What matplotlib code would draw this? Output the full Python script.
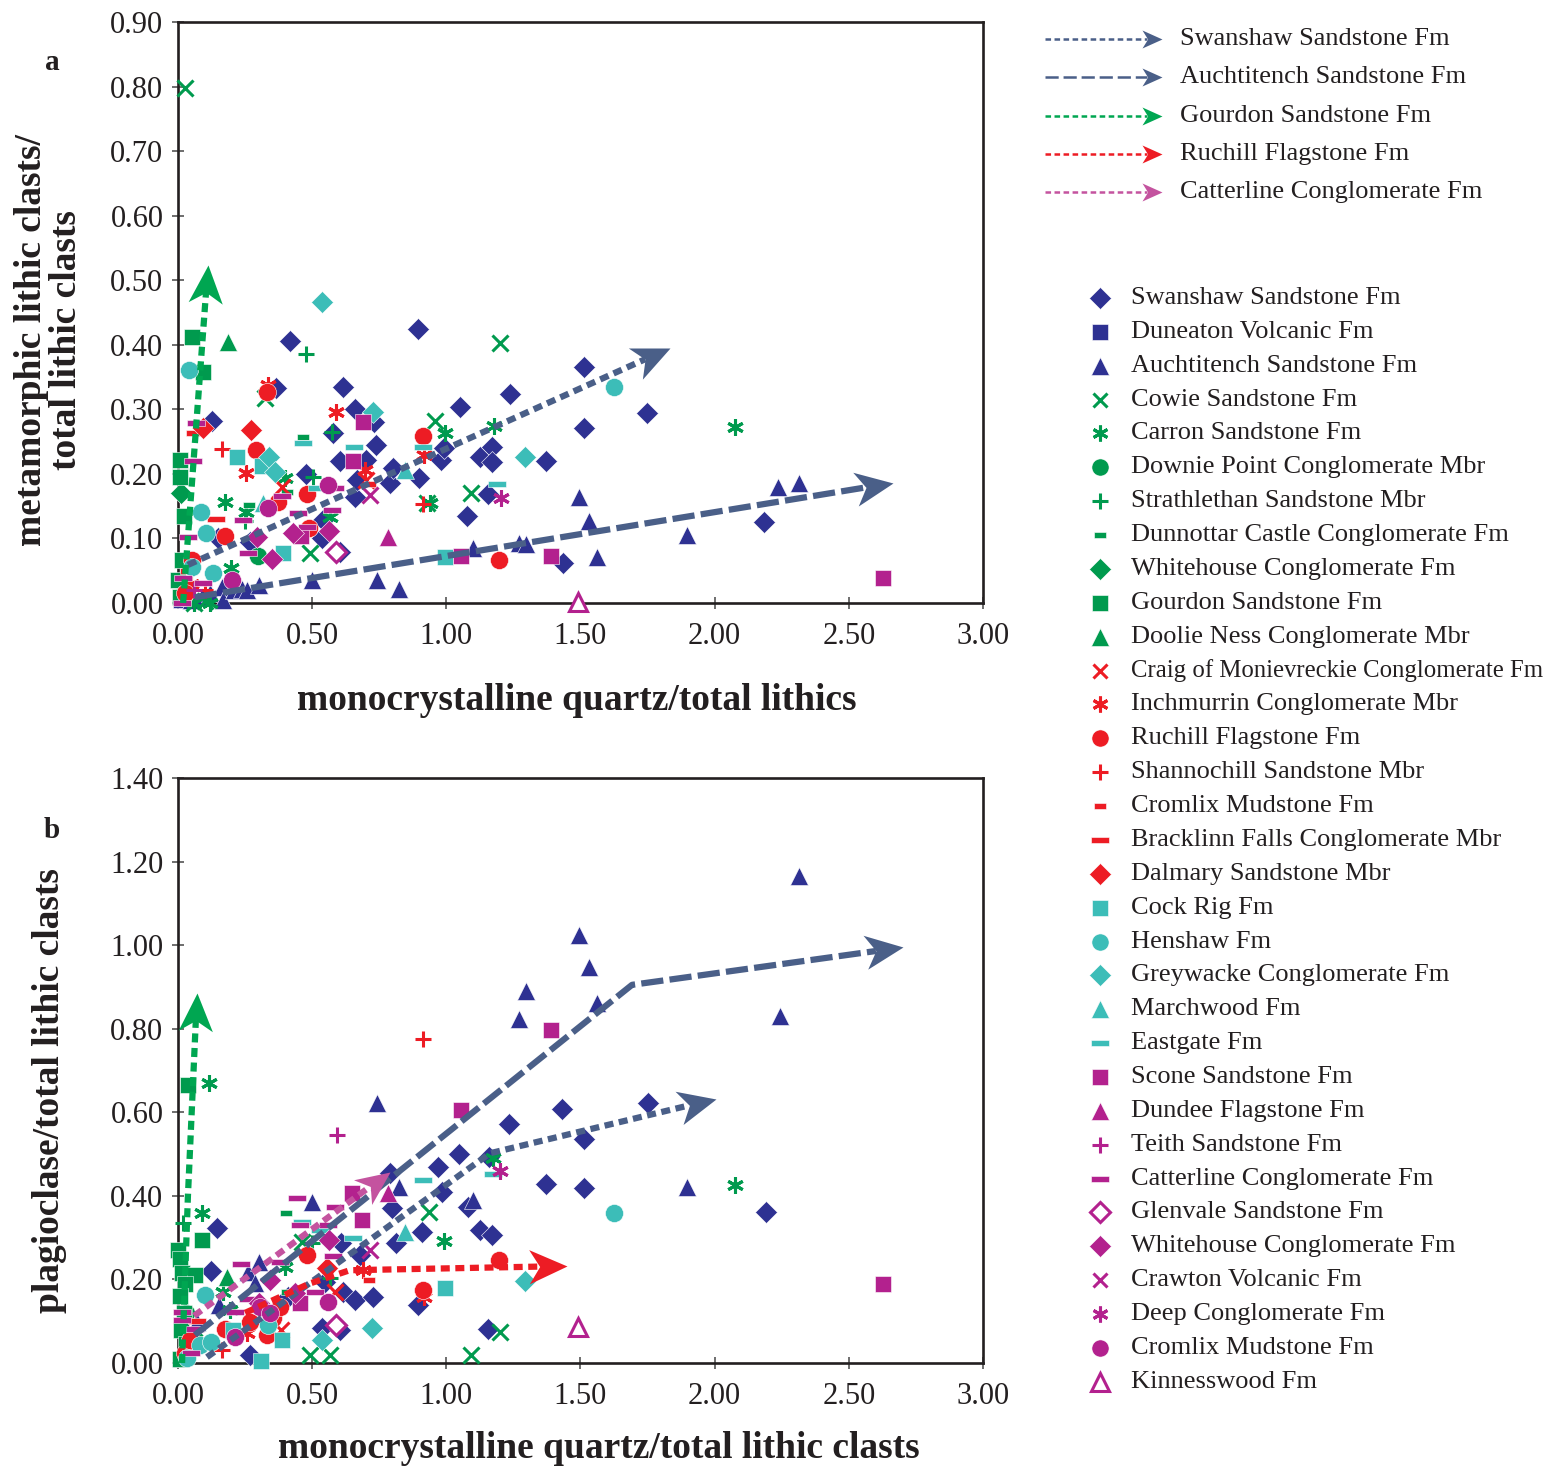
import numpy as np
import matplotlib
matplotlib.use("Agg")
import matplotlib.pyplot as plt
from matplotlib.markers import MarkerStyle
from matplotlib.path import Path
from matplotlib.transforms import Affine2D

plt.rcParams["font.family"] = ["Liberation Serif", "DejaVu Serif"]
plt.rcParams["lines.scale_dashes"] = False
plt.rcParams["text.color"] = "#231F20"

# ---------------------------------------------------------------- colours
NAVY = "#2E3192"
GREEN = "#009A4E"
RED = "#ED1C24"
TEAL = "#3CBDB8"
MAGENTA = "#B3218E"
SLATE = "#4A5F88"
ARROW_GREEN = "#00A651"
PINK = "#C4539F"

# ---------------------------------------------------------------- data
# (x, y) pairs: panel a = metamorphic/total lithic vs Qm/total lithics,
#               panel b = plagioclase/total lithic vs Qm/total lithic clasts
swanshaw_a = [(0.127, 0.282), (0.149, 0.10), (0.268, 0.095), (0.365, 0.333), (0.417, 0.406),
              (0.477, 0.20), (0.537, 0.10), (0.54, 0.128), (0.578, 0.263), (0.604, 0.22),
              (0.604, 0.079), (0.615, 0.335), (0.66, 0.30), (0.66, 0.164), (0.667, 0.19),
              (0.70, 0.221), (0.73, 0.28), (0.738, 0.245), (0.79, 0.186), (0.80, 0.209),
              (0.895, 0.424), (0.90, 0.193), (0.98, 0.221), (0.99, 0.24), (1.05, 0.304),
              (1.077, 0.135), (1.126, 0.226), (1.155, 0.169), (1.17, 0.242), (1.17, 0.218),
              (1.237, 0.324), (1.372, 0.22), (1.435, 0.062), (1.513, 0.366), (1.513, 0.271),
              (1.748, 0.294), (2.184, 0.125)]
swanshaw_b = [(0.123, 0.22), (0.145, 0.323), (0.268, 0.019), (0.41, 0.158), (0.537, 0.084),
              (0.548, 0.194), (0.604, 0.079), (0.608, 0.287), (0.615, 0.17), (0.66, 0.151),
              (0.678, 0.258), (0.727, 0.158), (0.79, 0.455), (0.798, 0.371), (0.812, 0.287),
              (0.895, 0.139), (0.909, 0.313), (0.969, 0.469), (0.984, 0.409), (1.047, 0.50),
              (1.081, 0.374), (1.126, 0.318), (1.155, 0.081), (1.159, 0.493), (1.17, 0.306),
              (1.234, 0.572), (1.372, 0.428), (1.431, 0.608), (1.513, 0.536), (1.513, 0.42),
              (1.752, 0.622), (2.19, 0.361)]
duneaton_a = [(0.01, 0.005)]
duneaton_b = [(0.01, 0.01)]
auchtitench_a = [(0.05, 0.005), (0.09, 0.01), (0.12, 0.015), (0.164, 0.025), (0.168, 0.005),
                 (0.21, 0.02), (0.24, 0.022), (0.257, 0.02), (0.302, 0.028), (0.50, 0.036),
                 (0.742, 0.036), (0.824, 0.021), (1.10, 0.085), (1.271, 0.093), (1.297, 0.091),
                 (1.495, 0.164), (1.532, 0.127), (1.562, 0.071), (1.897, 0.105), (2.236, 0.18),
                 (2.315, 0.186)]
auchtitench_b = [(0.02, 0.02), (0.071, 0.098), (0.153, 0.139), (0.26, 0.218), (0.287, 0.191),
                 (0.30, 0.242), (0.50, 0.385), (0.742, 0.622), (0.824, 0.421), (1.10, 0.39),
                 (1.271, 0.823), (1.297, 0.89), (1.495, 1.024), (1.532, 0.948), (1.562, 0.861),
                 (1.897, 0.421), (2.244, 0.83), (2.315, 1.165)]
cowie_a = [(0.026, 0.798), (0.324, 0.318), (0.492, 0.077), (0.928, 0.155), (0.958, 0.282),
           (1.092, 0.17), (1.20, 0.403), (0.10, 0.003), (0.06, 0.0)]
cowie_b = [(0.06, 0.05), (0.462, 0.29), (0.492, 0.019), (0.567, 0.019), (0.936, 0.361),
           (1.092, 0.019), (1.20, 0.074)]
carron_a = [(0.06, 0.0), (0.12, 0.0), (0.175, 0.156), (0.198, 0.054), (0.253, 0.141),
            (0.399, 0.194), (0.567, 0.133), (0.939, 0.155), (0.995, 0.263), (1.178, 0.274),
            (2.076, 0.273)]
carron_b = [(0.089, 0.359), (0.116, 0.67), (0.168, 0.17), (0.194, 0.127), (0.399, 0.23),
            (0.991, 0.292), (1.174, 0.49), (2.076, 0.426)]
downie_a = [(0.298, 0.073), (0.02, 0.01)]
downie_b = [(0.03, 0.12)]
strathlethan_a = [(0.25, 0.127), (0.477, 0.386), (0.503, 0.195), (0.574, 0.265), (0.03, 0.02)]
strathlethan_b = [(0.019, 0.335), (0.50, 0.287), (0.567, 0.203)]
dunnottar_a = [(0.265, 0.152), (0.406, 0.172), (0.466, 0.257)]
dunnottar_b = [(0.403, 0.359), (0.406, 0.17)]
whitehouse_g_a = [(0.01, 0.17), (0.03, 0.02)]
whitehouse_g_b = [(0.04, 0.03)]
gourdon_a = [(0.0, 0.036), (0.007, 0.01), (0.007, 0.195), (0.007, 0.221), (0.015, 0.066),
             (0.022, 0.134), (0.052, 0.412), (0.093, 0.358)]
gourdon_b = [(0.037, 0.665), (0.089, 0.294), (0.0, 0.27), (0.007, 0.25), (0.015, 0.215),
             (0.063, 0.21), (0.026, 0.19), (0.007, 0.16), (0.022, 0.12), (0.011, 0.08),
             (0.03, 0.045), (0.007, 0.01)]
doolie_a = [(0.186, 0.404)]
doolie_b = [(0.183, 0.206)]
craig_a = [(0.388, 0.18), (0.70, 0.19)]
craig_b = [(0.384, 0.08), (0.585, 0.17)]
inchmurrin_a = [(0.253, 0.201), (0.335, 0.337), (0.589, 0.296), (0.697, 0.206), (0.917, 0.229),
                (0.05, 0.03)]
inchmurrin_b = [(0.257, 0.072), (0.69, 0.222), (0.917, 0.158)]
ruchill_a = [(0.026, 0.015), (0.052, 0.066), (0.175, 0.104), (0.291, 0.237), (0.332, 0.327),
             (0.373, 0.156), (0.481, 0.169), (0.488, 0.116), (0.913, 0.259), (1.196, 0.066)]
ruchill_b = [(0.026, 0.024), (0.045, 0.055), (0.175, 0.081), (0.268, 0.098), (0.332, 0.067),
             (0.354, 0.108), (0.38, 0.134), (0.481, 0.258), (0.913, 0.175), (1.196, 0.246)]
shannochill_a = [(0.164, 0.239), (0.913, 0.153), (0.1, 0.02)]
shannochill_b = [(0.164, 0.031), (0.913, 0.775)]
cromlix_r_a = [(0.716, 0.184), (0.03, 0.05)]
cromlix_r_b = [(0.712, 0.199)]
bracklinn_a = [(0.063, 0.263), (0.142, 0.13)]
bracklinn_b = [(0.07, 0.10)]
dalmary_a = [(0.093, 0.271), (0.272, 0.268)]
dalmary_b = [(0.555, 0.227)]
cockrig_a = [(0.22, 0.226), (0.313, 0.212), (0.391, 0.077), (0.995, 0.071)]
cockrig_b = [(0.205, 0.079), (0.309, 0.005), (0.388, 0.055), (0.995, 0.179)]
henshaw_a = [(0.041, 0.361), (0.052, 0.056), (0.086, 0.141), (0.104, 0.108), (0.13, 0.046),
             (1.625, 0.335)]
henshaw_b = [(0.034, 0.012), (0.082, 0.043), (0.101, 0.163), (0.123, 0.05), (0.335, 0.091),
             (1.625, 0.359)]
greywacke_a = [(0.339, 0.226), (0.362, 0.203), (0.537, 0.466), (0.727, 0.296), (1.293, 0.226)]
greywacke_b = [(0.537, 0.055), (0.723, 0.084), (1.293, 0.196)]
marchwood_a = [(0.317, 0.155), (0.846, 0.206)]
marchwood_b = [(0.846, 0.313)]
eastgate_a = [(0.466, 0.248), (0.518, 0.178), (0.656, 0.241), (0.913, 0.241), (1.189, 0.184)]
eastgate_b = [(0.462, 0.337), (0.529, 0.318), (0.652, 0.299), (0.913, 0.438), (1.174, 0.452)]
scone_a = [(0.458, 0.104), (0.652, 0.22), (0.69, 0.28), (1.055, 0.073), (1.39, 0.073),
           (2.628, 0.039)]
scone_b = [(0.455, 0.144), (0.649, 0.407), (0.686, 0.342), (1.055, 0.605), (1.39, 0.797),
           (2.628, 0.189)]
dundee_a = [(0.783, 0.102)]
dundee_b = [(0.783, 0.407)]
teith_a = [(0.06, 0.02)]
teith_b = [(0.593, 0.546)]
catterline_a = [(0.015, 0.0), (0.019, 0.039), (0.037, 0.102), (0.056, 0.22), (0.067, 0.279),
                (0.093, 0.031), (0.242, 0.128), (0.261, 0.077), (0.388, 0.166), (0.447, 0.14),
                (0.481, 0.118), (0.574, 0.144), (0.585, 0.178)]
catterline_b = [(0.015, 0.122), (0.015, 0.103), (0.048, 0.024), (0.063, 0.081), (0.212, 0.122),
                (0.235, 0.237), (0.261, 0.153), (0.38, 0.242), (0.443, 0.395), (0.455, 0.33),
                (0.511, 0.17), (0.559, 0.33), (0.578, 0.256), (0.585, 0.374)]
glenvale_a = [(0.589, 0.079)]
glenvale_b = [(0.589, 0.091)]
whitehouse_m_a = [(0.294, 0.102), (0.35, 0.068), (0.429, 0.108), (0.563, 0.111)]
whitehouse_m_b = [(0.302, 0.144), (0.343, 0.199), (0.436, 0.168), (0.563, 0.294)]
crawton_a = [(0.716, 0.167)]
crawton_b = [(0.716, 0.27)]
deep_a = [(1.204, 0.163)]
deep_b = [(1.20, 0.46)]
cromlix_m_a = [(0.201, 0.036), (0.335, 0.147), (0.559, 0.183)]
cromlix_m_b = [(0.212, 0.063), (0.306, 0.134), (0.343, 0.12), (0.559, 0.146)]
kinnesswood_a = [(1.49, 0.002)]
kinnesswood_b = [(1.491, 0.086)]

# trend arrows (vertices, last one is the arrow tip)
trend_swanshaw_a = [(0.037, 0.059), (1.834, 0.395)]
trend_auchtitench_a = [(0.063, 0.009), (2.665, 0.186)]
trend_gourdon_a = [(0.019, 0.0), (0.112, 0.524)]
trend_auchtitench_b = [(0.063, 0.067), (1.692, 0.905), (2.702, 0.995)]
trend_swanshaw_b = [(0.108, 0.014), (1.163, 0.502), (2.005, 0.632)]
trend_catterline_b = [(0.06, 0.113), (0.79, 0.457)]
trend_ruchill_b = [(0.25, 0.12), (0.49, 0.19), (0.64, 0.222), (1.45, 0.232)]
trend_gourdon_b = [(0.015, 0.0), (0.037, 0.40), (0.071, 0.885)]

x_ticks = [0.0, 0.5, 1.0, 1.5, 2.0, 2.5, 3.0]
y_ticks_a = [0.0, 0.1, 0.2, 0.3, 0.4, 0.5, 0.6, 0.7, 0.8, 0.9]
y_ticks_b = [0.0, 0.2, 0.4, 0.6, 0.8, 1.0, 1.2, 1.4]

# ---------------------------------------------------------------- marker styles
DASH_LONG = [(-1, -0.3), (1, -0.3), (1, 0.3), (-1, 0.3), (-1, -0.3)]
DASH_SHORT = [(-1, -0.55), (1, -0.55), (1, 0.55), (-1, 0.55), (-1, -0.55)]
ASTER = (6, 2, 0)

# label, panel a, panel b, marker, colour, size (pt), kind
series = [
    ("Swanshaw Sandstone Fm", swanshaw_a, swanshaw_b, "D", NAVY, 11.5, "fill"),
    ("Duneaton Volcanic Fm", duneaton_a, duneaton_b, "s", NAVY, 12, "fill"),
    ("Auchtitench Sandstone Fm", auchtitench_a, auchtitench_b, "^", NAVY, 13.5, "fill"),
    ("Cowie Sandstone Fm", cowie_a, cowie_b, "x", GREEN, 11, "line"),
    ("Carron Sandstone Fm", carron_a, carron_b, ASTER, GREEN, 12, "line"),
    ("Downie Point Conglomerate Mbr", downie_a, downie_b, "o", GREEN, 13, "fill"),
    ("Strathlethan Sandstone Mbr", strathlethan_a, strathlethan_b, "+", GREEN, 12, "line"),
    ("Dunnottar Castle Conglomerate Fm", dunnottar_a, dunnottar_b, DASH_SHORT, GREEN, 9, "fill"),
    ("Whitehouse Conglomerate Fm", whitehouse_g_a, whitehouse_g_b, "D", GREEN, 11.5, "fill"),
    ("Gourdon Sandstone Fm", gourdon_a, gourdon_b, "s", GREEN, 12, "fill"),
    ("Doolie Ness Conglomerate Mbr", doolie_a, doolie_b, "^", GREEN, 13.5, "fill"),
    ("Craig of Monievreckie Conglomerate Fm", craig_a, craig_b, "x", RED, 11, "line"),
    ("Inchmurrin Conglomerate Mbr", inchmurrin_a, inchmurrin_b, ASTER, RED, 12, "line"),
    ("Ruchill Flagstone Fm", ruchill_a, ruchill_b, "o", RED, 13, "fill"),
    ("Shannochill Sandstone Mbr", shannochill_a, shannochill_b, "+", RED, 12, "line"),
    ("Cromlix Mudstone Fm", cromlix_r_a, cromlix_r_b, DASH_SHORT, RED, 9, "fill"),
    ("Bracklinn Falls Conglomerate Mbr", bracklinn_a, bracklinn_b, DASH_LONG, RED, 13, "fill"),
    ("Dalmary Sandstone Mbr", dalmary_a, dalmary_b, "D", RED, 11.5, "fill"),
    ("Cock Rig Fm", cockrig_a, cockrig_b, "s", TEAL, 12, "fill"),
    ("Henshaw Fm", henshaw_a, henshaw_b, "o", TEAL, 13, "fill"),
    ("Greywacke Conglomerate Fm", greywacke_a, greywacke_b, "D", TEAL, 11.5, "fill"),
    ("Marchwood Fm", marchwood_a, marchwood_b, "^", TEAL, 13.5, "fill"),
    ("Eastgate Fm", eastgate_a, eastgate_b, DASH_LONG, TEAL, 13, "fill"),
    ("Scone Sandstone Fm", scone_a, scone_b, "s", MAGENTA, 12, "fill"),
    ("Dundee Flagstone Fm", dundee_a, dundee_b, "^", MAGENTA, 13.5, "fill"),
    ("Teith Sandstone Fm", teith_a, teith_b, "+", MAGENTA, 12, "line"),
    ("Catterline Conglomerate Fm", catterline_a, catterline_b, DASH_LONG, MAGENTA, 13, "fill"),
    ("Glenvale Sandstone Fm", glenvale_a, glenvale_b, "D", MAGENTA, 10.5, "open"),
    ("Whitehouse Conglomerate Fm", whitehouse_m_a, whitehouse_m_b, "D", MAGENTA, 11.5, "fill"),
    ("Crawton Volcanic Fm", crawton_a, crawton_b, "x", MAGENTA, 11, "line"),
    ("Deep Conglomerate Fm", deep_a, deep_b, ASTER, MAGENTA, 12, "line"),
    ("Cromlix Mudstone Fm", cromlix_m_a, cromlix_m_b, "o", MAGENTA, 13, "fill"),
    ("Kinnesswood Fm", kinnesswood_a, kinnesswood_b, "^", MAGENTA, 13, "open"),
]

arrow_legend = [
    ("Swanshaw Sandstone Fm", SLATE, (4, 2.5)),
    ("Auchtitench Sandstone Fm", SLATE, (9.5, 3.5)),
    ("Gourdon Sandstone Fm", ARROW_GREEN, (4, 2.5)),
    ("Ruchill Flagstone Fm", RED, (4, 2.5)),
    ("Catterline Conglomerate Fm", PINK, (4, 2.5)),
]

SHORT_DASH = (6.5, 4.0)
LONG_DASH = (16, 4.5)
HEAD_VERTS = [(0, 0), (-1, 0.45), (-0.72, 0), (-1, -0.45), (0, 0)]

PX = 72.0 / 100.0  # points per pixel at 100 dpi


def marker_kwargs(marker, color, size, kind):
    kw = dict(marker=marker, markersize=size, linestyle="none")
    if kind == "fill":
        kw.update(color=color, markerfacecolor=color, markeredgecolor="white",
                  markeredgewidth=0.4)
    elif kind == "open":
        kw.update(color=color, markerfacecolor="white", markeredgecolor=color,
                  markeredgewidth=2.2)
    else:
        kw.update(color=color, markeredgecolor=color, markeredgewidth=2.2)
    return kw


def head_marker(angle):
    return MarkerStyle(Path(HEAD_VERTS, closed=True), transform=Affine2D().rotate_deg(angle))


def trend(ax, pts, color, dashes, lw=4.5, head_px=38):
    pts = np.asarray(pts, dtype=float)
    disp = ax.transData.transform(pts)
    d = disp[-1] - disp[-2]
    ang = np.degrees(np.arctan2(d[1], d[0]))
    u = d / np.hypot(d[0], d[1])
    shaft = disp.copy()
    shaft[-1] = disp[-1] - u * head_px * 0.72
    shaft = ax.transData.inverted().transform(shaft)
    ax.plot(shaft[:, 0], shaft[:, 1], color=color, lw=lw, dashes=dashes,
            dash_capstyle="butt", solid_joinstyle="miter", zorder=6, clip_on=False)
    ax.plot([pts[-1, 0]], [pts[-1, 1]], marker=head_marker(ang),
            markersize=2 * head_px * PX, color=color, markeredgewidth=0,
            linestyle="none", zorder=7, clip_on=False)


def style_axes(ax, ylim, yticks):
    ax.set_xlim(0, 3.0)
    ax.set_ylim(*ylim)
    ax.set_xticks(x_ticks)
    ax.set_yticks(yticks)
    ax.xaxis.set_major_formatter(matplotlib.ticker.FormatStrFormatter("%.2f"))
    ax.yaxis.set_major_formatter(matplotlib.ticker.FormatStrFormatter("%.2f"))
    for sp in ax.spines.values():
        sp.set_linewidth(1.9)
        sp.set_color("#231F20")
    ax.tick_params(direction="inout", length=9, width=1.2, color="#555555",
                   labelsize=22, labelcolor="#231F20")
    ax.tick_params(axis="y", pad=6)
    ax.tick_params(axis="x", pad=9)


W, H = 1556, 1468
fig = plt.figure(figsize=(W / 100, H / 100), dpi=100)

ax_a = fig.add_axes([178 / W, 1 - 603 / H, 805 / W, 581 / H])
ax_b = fig.add_axes([178 / W, 1 - 1363 / H, 805 / W, 585 / H])
style_axes(ax_a, (0, 0.9), y_ticks_a)
style_axes(ax_b, (0, 1.4), y_ticks_b)

for label, pa, pb, marker, color, size, kind in series:
    kw = marker_kwargs(marker, color, size, kind)
    for ax, pts in ((ax_a, pa), (ax_b, pb)):
        xy = np.asarray(pts, dtype=float)
        ax.plot(xy[:, 0], xy[:, 1], clip_on=False, zorder=3, **kw)

# trend arrows, panel a
trend(ax_a, trend_swanshaw_a, SLATE, SHORT_DASH)
trend(ax_a, trend_auchtitench_a, SLATE, LONG_DASH)
trend(ax_a, trend_gourdon_a, ARROW_GREEN, SHORT_DASH)
# trend arrows, panel b
trend(ax_b, trend_auchtitench_b, SLATE, LONG_DASH)
trend(ax_b, trend_swanshaw_b, SLATE, SHORT_DASH)
trend(ax_b, trend_catterline_b, PINK, SHORT_DASH, head_px=34)
trend(ax_b, trend_ruchill_b, RED, SHORT_DASH)
trend(ax_b, trend_gourdon_b, ARROW_GREEN, SHORT_DASH)

# axis titles
fig.text(577 / W, 1 - 700 / H, "monocrystalline quartz/total lithics", ha="center",
         va="center", fontsize=27, fontweight="bold")
fig.text(599 / W, 1 - 1448 / H, "monocrystalline quartz/total lithic clasts", ha="center",
         va="center", fontsize=27, fontweight="bold")
fig.text(49 / W, 1 - 340 / H, "metamorphic lithic clasts/\ntotal lithic clasts",
         rotation=90, ha="center", va="center", multialignment="center",
         fontsize=27, fontweight="bold", linespacing=1.0)
fig.text(50 / W, 1 - 1091 / H, "plagioclase/total lithic clasts", rotation=90,
         ha="center", va="center", fontsize=27, fontweight="bold")
fig.text(52 / W, 1 - 62 / H, "a", ha="center", va="center", fontsize=21, fontweight="bold")
fig.text(52 / W, 1 - 830 / H, "b", ha="center", va="center", fontsize=21, fontweight="bold")

# legends drawn in a pixel-space overlay
leg = fig.add_axes([0, 0, 1, 1], zorder=10)
leg.set_xlim(0, W)
leg.set_ylim(H, 0)
leg.axis("off")

for i, (label, color, dash) in enumerate(arrow_legend):
    y = 39 + i * 38.3
    leg.plot([1045, 1147], [y, y], color=color, lw=1.8, dashes=dash, dash_capstyle="butt")
    leg.plot([1162], [y], marker=head_marker(0), markersize=2 * 20 * PX, color=color,
             markeredgewidth=0, linestyle="none")
    leg.text(1180, y, label, ha="left", va="center", fontsize=19)

for i, (label, pa, pb, marker, color, size, kind) in enumerate(series):
    y = 298 + i * 33.87
    kw = marker_kwargs(marker, color, size * 0.95, kind)
    leg.plot([1100], [y], **kw)
    # the longest name is set a little smaller so that it stays inside the figure
    fs = 17.8 if len(label) > 34 else 19
    leg.text(1131, y, label, ha="left", va="center", fontsize=fs)

fig.savefig("out.png", dpi=100)
